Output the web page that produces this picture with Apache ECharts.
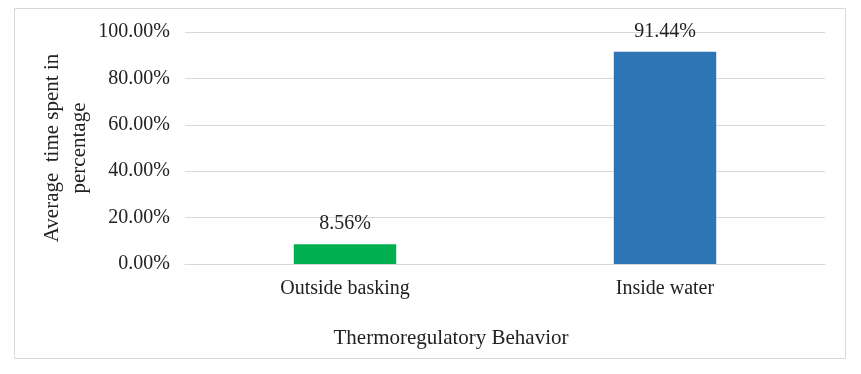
<!DOCTYPE html>
<html>
<head>
<meta charset="utf-8">
<script src="https://cdn.jsdelivr.net/npm/echarts@6/dist/echarts.min.js"></script>
<style>
  html, body { margin: 0; padding: 0; background: #fff; }
  #chart { width: 861px; height: 374px; }
</style>
</head>
<body>
<div id="chart"></div>
<script>
const categories = ['Outside basking', 'Inside water']
const values = [8.56, 91.44]
const barColors = ['#00B050', '#2E75B6']
const yTicks = [0, 20, 40, 60, 80, 100]

const font = '"Liberation Serif", "Times New Roman", serif'
const chart = echarts.init(document.getElementById('chart'))
chart.setOption({
  animation: false,
  textStyle: { fontFamily: font },
  grid: { left: 185, right: 36, top: 32, bottom: 110 },
  graphic: [
    {
      type: 'rect',
      shape: { x: 14.5, y: 8.5, width: 831, height: 350 },
      style: { fill: 'none', stroke: '#d9d9d9', lineWidth: 1 },
      silent: true,
    },
    {
      type: 'text',
      style: {
        text: 'Thermoregulatory Behavior',
        font: '21px ' + font,
        fill: '#222',
        x: 451,
        y: 338,
        textAlign: 'center',
        textVerticalAlign: 'middle',
      },
    },
  ],
  xAxis: {
    type: 'category',
    data: categories,
    axisTick: { show: false },
    axisLine: { lineStyle: { color: '#d9d9d9' } },
    axisLabel: { color: '#222', fontSize: 20, margin: 15, fontFamily: font },
  },
  yAxis: {
    type: 'value',
    min: yTicks[0],
    max: yTicks[yTicks.length - 1],
    interval: 20,
    name: 'Average  time spent in\npercentage',
    nameLocation: 'middle',
    nameGap: 92,
    nameMoveOverlap: false,
    nameTextStyle: { color: '#222', fontSize: 21, fontFamily: font, lineHeight: 27 },
    axisLabel: {
      color: '#222', fontSize: 20, margin: 15, fontFamily: font,
      formatter: (v) => v.toFixed(2) + '%',
    },
    splitLine: { lineStyle: { color: '#d9d9d9' } },
  },
  series: [
    {
      type: 'bar',
      barWidth: '32%',
      data: values.map((v, i) => ({ value: v, itemStyle: { color: barColors[i] } })),
      label: {
        show: true,
        position: 'top',
        distance: 10,
        color: '#222',
        fontSize: 20,
        fontFamily: font,
        formatter: (p) => p.value.toFixed(2) + '%',
      },
    },
  ],
})
</script>
</body>
</html>
